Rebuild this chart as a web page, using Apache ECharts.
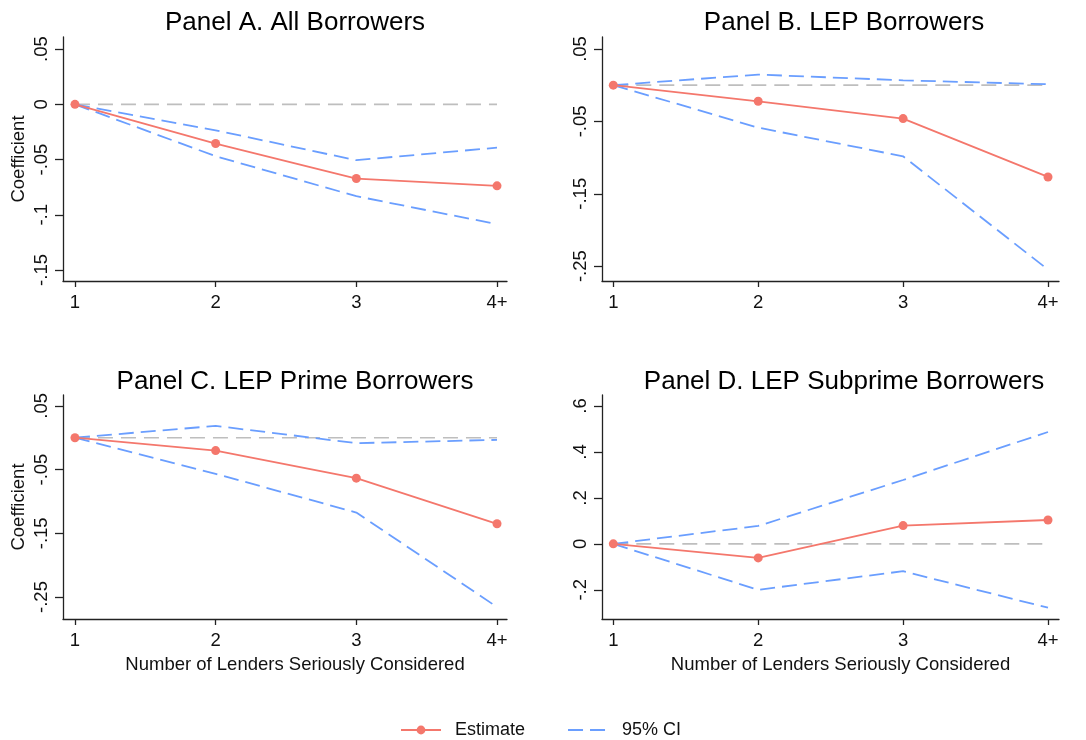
<!DOCTYPE html>
<html>
<head>
<meta charset="utf-8">
<script src="https://cdn.jsdelivr.net/npm/echarts@6.0.0/dist/echarts.min.js"></script>
<style>
  html, body { margin: 0; padding: 0; background: #ffffff; }
  #chart { width: 1086px; height: 740px; }
</style>
</head>
<body>
<div id="chart"></div>
<script>
// ---- Data ----
const categories = ['1', '2', '3', '4+'];
const panelTitles = ['Panel A. All Borrowers', 'Panel B. LEP Borrowers', 'Panel C. LEP Prime Borrowers', 'Panel D. LEP Subprime Borrowers'];

const estA = [0, -0.0355, -0.0672, -0.0738];
const upA  = [0, -0.0235, -0.0506, -0.0392];
const loA  = [0, -0.0470, -0.0832, -0.1085];

const estB = [0, -0.0223, -0.0462, -0.1268];
const upB  = [0, 0.0146, 0.0067, 0.0012];
const loB  = [0, -0.0587, -0.0983, -0.2548];

const estC = [0, -0.0202, -0.0635, -0.1351];
const upC  = [0, 0.0185, -0.0086, -0.0034];
const loC  = [0, -0.0567, -0.1174, -0.2657];

const estD = [0, -0.061, 0.0797, 0.104];
const upD  = [0, 0.078, 0.278, 0.487];
const loD  = [0, -0.200, -0.119, -0.278];

const zeroLine = [0, 0, 0, 0];

const yTicksA = [-0.15, -0.1, -0.05, 0, 0.05];
const yLabelsA = ['-.15', '-.1', '-.05', '0', '.05'];
const yTicksBC = [-0.25, -0.15, -0.05, 0.05];
const yLabelsBC = ['-.25', '-.15', '-.05', '.05'];
const yTicksD = [-0.2, 0, 0.2, 0.4, 0.6];
const yLabelsD = ['-.2', '0', '.2', '.4', '.6'];

const yAxisName = 'Coefficient';
const xAxisName = 'Number of Lenders Seriously Considered';
const legendNames = ['Estimate', '95% CI'];

// ---- Styles / layout ----
const RED = '#F4776C';
const BLUE = '#6A9EFF';
const GRAY = '#BEBEBE';
const FONT = 'Liberation Sans, Arial, Helvetica, sans-serif';

const panels = [
  { title: panelTitles[0], est: estA, up: upA, lo: loA, ticks: yTicksA, labels: yLabelsA,
    grid: { left: 63, top: 37, width: 444, height: 244 }, ymin: -0.160, ymax: 0.061,
    xmin: 0.915, xmax: 4.071, titleX: 295, titleTop: 10, yName: true, xName: false },
  { title: panelTitles[1], est: estB, up: upB, lo: loB, ticks: yTicksBC, labels: yLabelsBC,
    grid: { left: 602, top: 37, width: 457, height: 244 }, ymin: -0.2705, ymax: 0.0665,
    xmin: 0.922, xmax: 4.076, titleX: 844, titleTop: 10, yName: false, xName: false },
  { title: panelTitles[2], est: estC, up: upC, lo: loC, ticks: yTicksBC, labels: yLabelsBC,
    grid: { left: 63, top: 395, width: 444, height: 224 }, ymin: -0.2845, ymax: 0.067,
    xmin: 0.915, xmax: 4.071, titleX: 295, titleTop: 369, yName: true, xName: true },
  { title: panelTitles[3], est: estD, up: upD, lo: loD, ticks: yTicksD, labels: yLabelsD,
    grid: { left: 602, top: 395, width: 457, height: 224 }, ymin: -0.327, ymax: 0.648,
    xmin: 0.922, xmax: 4.076, titleX: 844, titleTop: 369, yName: false, xName: true }
];

function toXY(arr) { return arr.map((v, i) => [i + 1, v]); }
const xTickValues = categories.map((c, i) => i + 1);

const option = {
  animation: false,
  backgroundColor: '#ffffff',
  textStyle: { fontFamily: FONT },
  title: [],
  grid: [],
  xAxis: [],
  yAxis: [],
  series: [],
  legend: {
    data: [
      { name: legendNames[0] },
      { name: legendNames[1], itemStyle: { opacity: 0 } }
    ],
    left: 395,
    top: 716,
    itemWidth: 40,
    itemHeight: 11,
    itemGap: 42,
    textStyle: { fontFamily: FONT, fontSize: 18, color: '#111', padding: [0, 0, 0, 9] }
  }
};

panels.forEach((p, k) => {
  option.title.push({
    text: p.title, left: p.titleX, top: p.titleTop, textAlign: 'center', padding: 0,
    textStyle: { fontFamily: FONT, fontSize: 26, fontWeight: 'normal', color: '#000' }
  });
  option.grid.push(Object.assign({ containLabel: false, outerBoundsMode: 'none' }, p.grid));
  option.xAxis.push({
    type: 'value', gridIndex: k, min: p.xmin, max: p.xmax,
    name: p.xName ? xAxisName : '', nameLocation: 'middle', nameGap: 36,
    nameTextStyle: { fontFamily: FONT, fontSize: 18.5, color: '#111', padding: [0, 0, 0, 20] },
    axisLine: { show: true, onZero: false, lineStyle: { color: '#222', width: 1.3 } },
    axisTick: { show: true, length: 6, customValues: xTickValues, lineStyle: { color: '#222', width: 1.3 } },
    axisLabel: {
      show: true, customValues: xTickValues, margin: 12,
      fontFamily: FONT, fontSize: 18.5, color: '#111',
      formatter: v => categories[Math.round(v) - 1]
    },
    splitLine: { show: false }
  });
  option.yAxis.push({
    type: 'value', gridIndex: k, min: p.ymin, max: p.ymax,
    name: p.yName ? yAxisName : '', nameLocation: 'middle', nameGap: 35, nameRotate: 90,
    nameTextStyle: { fontFamily: FONT, fontSize: 18.5, color: '#111' },
    axisLine: { show: true, onZero: false, lineStyle: { color: '#222', width: 1.3 } },
    axisTick: { show: true, length: 8, customValues: p.ticks, lineStyle: { color: '#222', width: 1.3 } },
    axisLabel: {
      show: true, customValues: p.ticks, rotate: 90, margin: 12,
      fontFamily: FONT, fontSize: 18.5, color: '#111',
      formatter: v => {
        for (let i = 0; i < p.ticks.length; i++) if (Math.abs(p.ticks[i] - v) < 1e-9) return p.labels[i];
        return '';
      }
    },
    splitLine: { show: false }
  });
  option.series.push({
    name: 'zero', type: 'line', xAxisIndex: k, yAxisIndex: k, data: toXY(zeroLine),
    showSymbol: false, silent: true, z: 1,
    lineStyle: { color: GRAY, width: 1.6, type: [15, 8] }
  });
  option.series.push({
    name: legendNames[1], type: 'line', xAxisIndex: k, yAxisIndex: k, data: toXY(p.up),
    showSymbol: false, symbol: 'none', z: 2, itemStyle: { color: BLUE },
    lineStyle: { color: BLUE, width: 1.8, type: [15, 7] }
  });
  option.series.push({
    name: legendNames[1], type: 'line', xAxisIndex: k, yAxisIndex: k, data: toXY(p.lo),
    showSymbol: false, symbol: 'none', z: 2, itemStyle: { color: BLUE },
    lineStyle: { color: BLUE, width: 1.8, type: [15, 7] }
  });
  option.series.push({
    name: legendNames[0], type: 'line', xAxisIndex: k, yAxisIndex: k, data: toXY(p.est),
    symbol: 'circle', symbolSize: 9, showSymbol: true, z: 3,
    itemStyle: { color: RED }, lineStyle: { color: RED, width: 1.8 }
  });
});

const chart = echarts.init(document.getElementById('chart'), null, { renderer: 'canvas' });
chart.setOption(option);
</script>
</body>
</html>
